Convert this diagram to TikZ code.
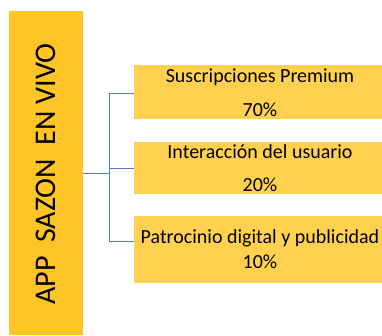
\documentclass[tikz,border=0pt]{standalone}
\usepackage{fontspec}
\setmainfont{Carlito}
\definecolor{barY}{RGB}{255,196,37}
\definecolor{boxY}{RGB}{255,209,79}
\definecolor{lineB}{RGB}{88,122,192}
\begin{document}
\begin{tikzpicture}[x=1pt,y=-1pt,
  catbox/.style={fill=boxY,draw=none,inner sep=0pt,minimum width=248pt,anchor=north west},
  boxtxt/.style={font=\fontsize{20}{24}\selectfont,inner sep=0pt,anchor=center},
  conn/.style={draw=lineB,line width=1pt}]
\useasboundingbox (0,0) rectangle (382,335);
\fill[white] (0,0) rectangle (382,335);
% main bar
\node[fill=barY,inner sep=0pt,minimum width=74pt,minimum height=324pt,anchor=north west] (bar) at (9,11) {};
\node[rotate=90,font=\fontsize{30}{34}\selectfont,inner sep=0pt] (title) at (46,174) {APP\ \ SAZON\ \ EN VIVO};
% boxes
\node[catbox,minimum height=54pt] (b1) at (134,65) {};
\node[catbox,minimum height=52pt] (b2) at (134,142) {};
\node[catbox,minimum height=67pt] (b3) at (134,216) {};
\node[boxtxt] (t1) at (260,77) {Suscripciones Premium};
\node[boxtxt] (p1) at (260,110) {70\%};
\node[boxtxt] (t2) at (260,152) {Interacción del usuario};
\node[boxtxt] (p2) at (260,185) {20\%};
\node[boxtxt] (t3) at (260,238) {Patrocinio digital y publicidad};
\node[boxtxt] (p3) at (260,262) {10\%};
% connectors
\coordinate (j) at (109,173);
\draw[conn] (bar.east |- j) -- (j);
\draw[conn] (b1.west |- 0,93) -| (j);
\draw[conn] (b3.west |- 0,241) -| (j);
\draw[conn] (j |- 0,168) -- (b2.west |- 0,168);
\end{tikzpicture}
\end{document}
